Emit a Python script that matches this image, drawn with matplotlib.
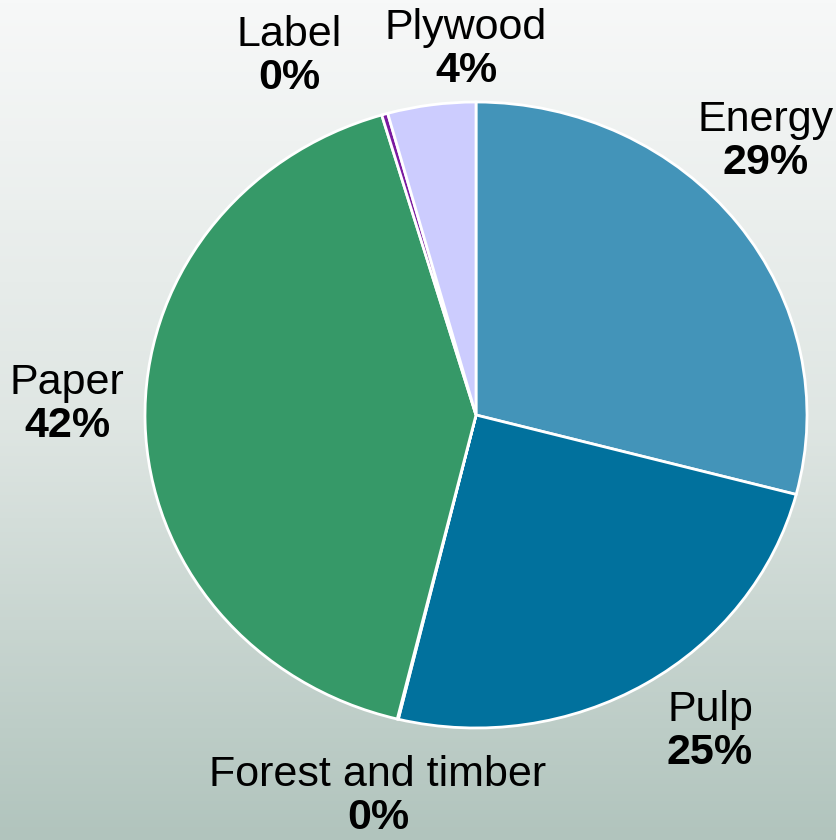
import matplotlib
matplotlib.use('Agg')
import matplotlib.pyplot as plt
import numpy as np
from matplotlib.colors import LinearSegmentedColormap

# Share of use by sector, clockwise from 12 o'clock
sectors = ["Energy", "Pulp", "Forest and timber", "Paper", "Label", "Plywood"]
shares = [29.1, 24.7, 0.05, 41.6, 0.3, 4.3]
colours = ["#4394b9", "#01719d", "#9fb8b0", "#369968", "#7a1aa0", "#ccccfe"]

# Label anchor points (pixels, from top-left)
label_pos = [(766, 120), (710, 710), (378, 775), (67, 383), (289, 35), (466, 28)]

W, H = 837, 840
plt.rcParams['font.family'] = ['Liberation Sans', 'DejaVu Sans']

fig = plt.figure(figsize=(W / 100, H / 100), dpi=100)

# Background fade, pale at the top to grey-green at the bottom
bg = fig.add_axes([0, 0, 1, 1])
fade = LinearSegmentedColormap.from_list("fade", ["#f7f8f8", "#dfe6e3", "#b1c4bd"])
bg.imshow(np.linspace(0, 1, 256).reshape(-1, 1), aspect='auto', cmap=fade,
          extent=[0, 1, 0, 1])
bg.axis('off')

# Pie, stretched slightly wider than tall
cx, cy, rx, ry = 476, 415, 331, 313
ax = fig.add_axes([(cx - rx) / W, 1 - (cy + ry) / H, 2 * rx / W, 2 * ry / H])
ax.pie(shares, colors=colours, startangle=90, counterclock=False,
       wedgeprops=dict(edgecolor='white', linewidth=2))
ax.set_aspect('auto')
ax.set_xlim(-1.0, 1.0)
ax.set_ylim(-1.0, 1.0)
ax.axis('off')

for name, val, (x, y) in zip(sectors, shares, label_pos):
    fig.text(x / W, 1 - y / H, name, ha='center', va='center', fontsize=31)
    fig.text(x / W, 1 - (y + 43) / H, "%d%%" % round(val), ha='center',
             va='center', fontsize=31, fontweight='bold')

plt.savefig("out.png", dpi=100)
